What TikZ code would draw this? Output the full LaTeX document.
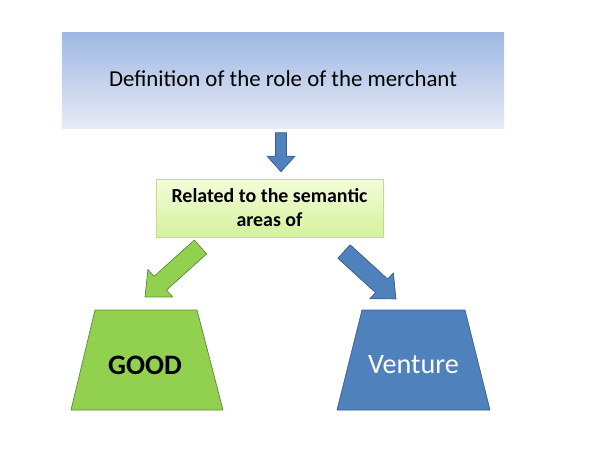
\documentclass[tikz,border=0pt]{standalone}
\usepackage{fontspec}
\setmainfont{Carlito}
\usetikzlibrary{shapes.arrows}
\definecolor{topblue}{HTML}{9FB8E3}
\definecolor{toplight}{HTML}{E6EBF6}
\definecolor{limetop}{HTML}{F4FCDA}
\definecolor{limebot}{HTML}{D4F29C}
\definecolor{limeline}{HTML}{C5D88E}
\definecolor{goodgreen}{HTML}{92D050}
\definecolor{goodline}{HTML}{5E8A3A}
\definecolor{ventblue}{HTML}{4F81BD}
\definecolor{ventline}{HTML}{385D8A}

\begin{document}
\begin{tikzpicture}[x=0.03cm, y=-0.03cm, font=\normalsize, line join=round,
	blockarrow/.style={single arrow, draw, line width=0.6pt, single arrow tip angle=84,
		anchor=tail, inner sep=0pt, outer sep=0pt},
	base/.style={line width=0.6pt},
	baselabel/.style={font=\fontsize{24}{28}\selectfont, inner sep=0pt}]
\useasboundingbox (0,0) rectangle (600,450);
%========================
% Top: title box
%========================
\node[top color=topblue, bottom color=toplight, minimum width=13.26cm, minimum height=2.85cm,
	inner sep=0pt, font=\fontsize{19.5}{23}\selectfont] (role) at (283,80.5)
	{\raisebox{4pt}{Definition of the role of the merchant}};

% arrow down to the middle box
\node[blockarrow, fill=ventblue, draw=ventline, rotate=-90, minimum height=1.17cm,
	minimum width=0.84cm, inner ysep=0.15cm] (down) at (281,132.7) {};

%========================
% Middle: semantic areas
%========================
\node[top color=limetop, bottom color=limebot, draw=limeline, line width=0.5pt,
	minimum width=6.81cm, minimum height=1.74cm, align=center,
	font=\fontsize{17}{20.5}\selectfont\bfseries] (areas) at (269.5,208)
	{Related to the semantic\\ areas of};

% arrows to the two areas
\node[blockarrow, fill=goodgreen, draw=goodline, rotate=222, minimum height=2.24cm,
	minimum width=1.11cm, inner ysep=0.24cm] (toGood) at (200.5,247) {};
\node[blockarrow, fill=ventblue, draw=ventline, rotate=-42.4, minimum height=2.11cm,
	minimum width=1.05cm, inner ysep=0.26cm] (toVenture) at (344,251.5) {};

%========================
% Bottom: the two areas
%========================
% trapezoid bases
\draw[base, fill=goodgreen, draw=goodline] (95,310) -- (197,310) -- (223,410) -- (71,410) -- cycle;
\draw[base, fill=ventblue, draw=ventline] (362,310) -- (465,310) -- (490,410) -- (337,410) -- cycle;
\node[baselabel, font=\fontsize{24}{28}\selectfont\bfseries] (good) at (145,365) {GOOD};
\node[baselabel, text=white] (venture) at (413.5,365) {Venture};
\end{tikzpicture}
\end{document}
